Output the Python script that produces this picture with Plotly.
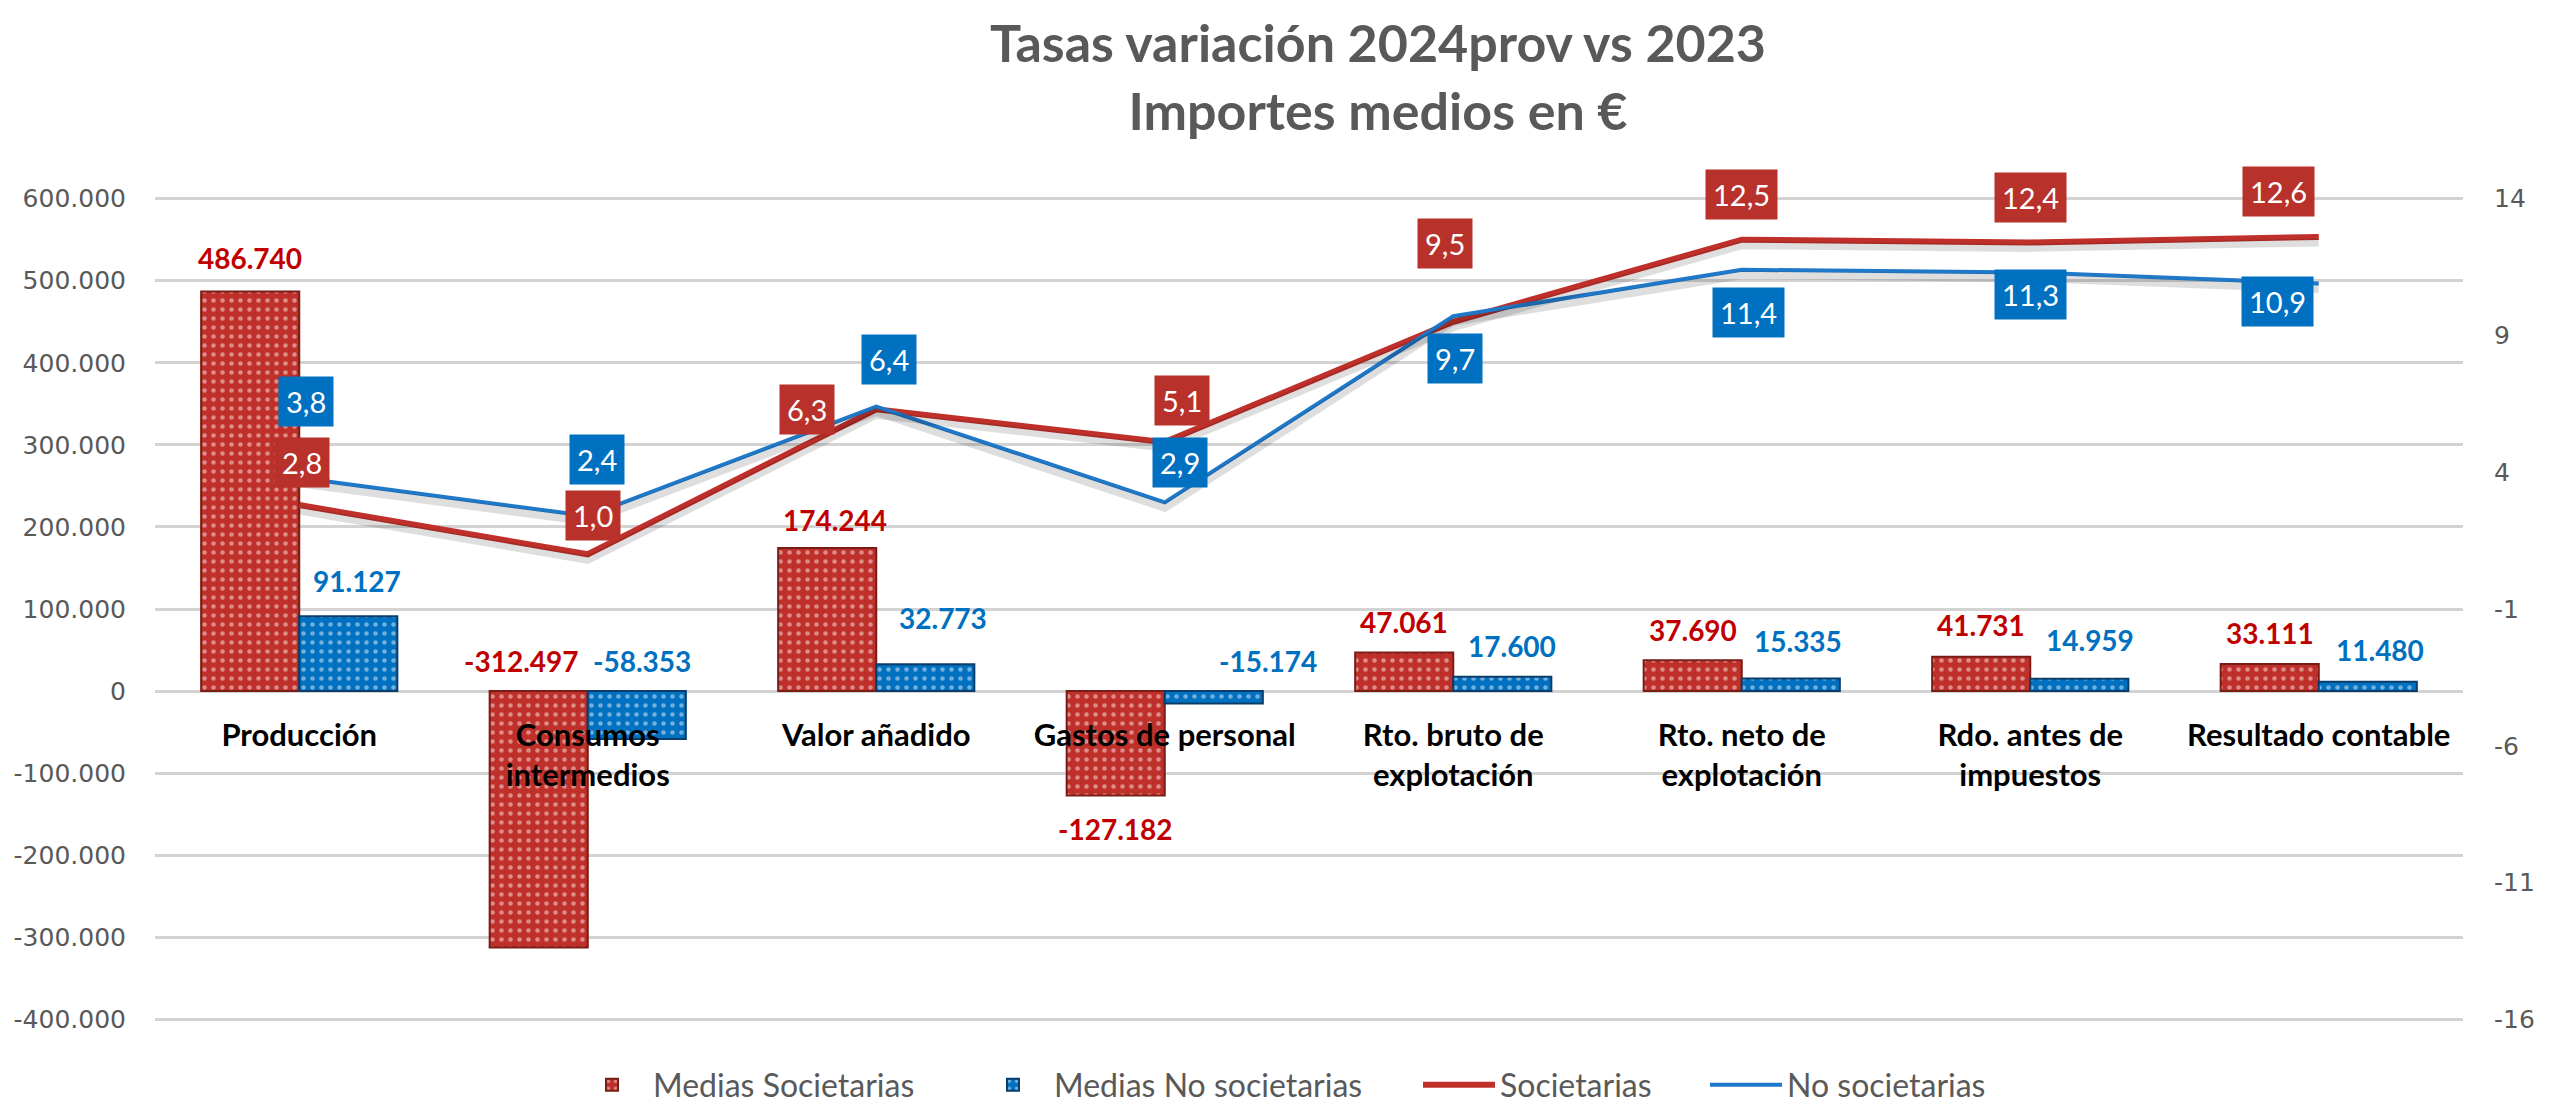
import plotly.graph_objects as go

categories = ["Producción", "Consumos<br>intermedios", "Valor añadido", "Gastos de personal",
              "Rto. bruto de<br>explotación", "Rto. neto de<br>explotación",
              "Rdo. antes de<br>impuestos", "Resultado contable"]
medias_soc = [486740, -312497, 174244, -127182, 47061, 37690, 41731, 33111]
medias_nosoc = [91127, -58353, 32773, -15174, 17600, 15335, 14959, 11480]
tasa_soc = [2.8, 1.0, 6.3, 5.1, 9.5, 12.5, 12.4, 12.6]
tasa_nosoc = [3.8, 2.4, 6.4, 2.9, 9.7, 11.4, 11.3, 10.9]
series_names = ["Medias Societarias", "Medias No societarias", "Societarias", "No societarias"]

left_ticks = [-400000, -300000, -200000, -100000, 0, 100000, 200000, 300000, 400000, 500000, 600000]
left_tick_labels = ["-400.000", "-300.000", "-200.000", "-100.000", "0", "100.000", "200.000",
                    "300.000", "400.000", "500.000", "600.000"]
right_ticks = [-16, -11, -6, -1, 4, 9, 14]
right_tick_labels = ["-16", "-11", "-6", "-1", "4", "9", "14"]

RED = "#C0302A"
RED_TXT = "#C00000"
BLUE = "#0070C0"
BLUE_LINE = "#1F78C8"
GRAY = "#595959"
FONT = "Lato"

# axis ranges (left and right aligned: 100.000 on the left = 3 on the right)
L_MIN, L_MAX = -402000, 602000
R_MIN, R_MAX = -16 + (L_MIN + 400000) * 3e-5, -16 + (L_MAX + 400000) * 3e-5
SHADOW_SHIFT = 0.2  # right-axis units, drop shadow offset of the lines


def fmt_int(v):
    return f"{v:,.0f}".replace(",", ".")


def fmt_dec(v):
    return f"{v:.1f}".replace(".", ",")


fig = go.Figure()
fig.add_trace(go.Bar(
    x=categories, y=medias_soc, name=series_names[0], legend="legend",
    marker=dict(color=RED, line=dict(color="#7A1C16", width=2),
                pattern=dict(shape=".", fgcolor="rgba(255,255,255,0.9)", bgcolor=RED,
                             size=9, solidity=0.2)),
))
fig.add_trace(go.Bar(
    x=categories, y=medias_nosoc, name=series_names[1], legend="legend2",
    marker=dict(color=BLUE, line=dict(color="#0B3D6B", width=2),
                pattern=dict(shape=".", fgcolor="rgba(255,255,255,0.9)", bgcolor=BLUE,
                             size=9, solidity=0.2)),
))
# soft drop shadows of the two lines (same data, drawn on a slightly shifted axis)
for vals in (tasa_soc, tasa_nosoc):
    fig.add_trace(go.Scatter(
        x=categories, y=vals, yaxis="y3", mode="lines", showlegend=False, hoverinfo="skip",
        line=dict(color="rgba(0,0,0,0.13)", width=8),
    ))
fig.add_trace(go.Scatter(
    x=categories, y=tasa_soc, name=series_names[2], yaxis="y2", mode="lines", legend="legend3",
    line=dict(color=RED, width=6),
))
fig.add_trace(go.Scatter(
    x=categories, y=tasa_nosoc, name=series_names[3], yaxis="y2", mode="lines", legend="legend4",
    line=dict(color=BLUE_LINE, width=4),
))

annotations = []
BAR_OFF = 49
red_anchor = ["end", "zero", "end", "end", "end", "end", "end", "end"]
red_dx = [0, -17, 8, 0, 0, 0, 0, 0]
red_dy = [34, 30, 28, -34, 30, 30, 32, 31]
blue_anchor = ["end", "zero", "end", "zero", "end", "end", "end", "end"]
blue_dx = [9, 5, 18, 54, 10, 7, 11, 12]
blue_dy = [35, 30, 46, 30, 31, 37, 39, 32]

for i, c in enumerate(categories):
    v = medias_soc[i]
    annotations.append(dict(
        x=c, y=(v if red_anchor[i] == "end" else 0), xref="x", yref="y",
        text=f"<b>{fmt_int(v)}</b>", showarrow=False,
        xshift=-BAR_OFF + red_dx[i], yshift=red_dy[i], yanchor="middle",
        font=dict(family=FONT, size=28, color=RED_TXT)))
    v = medias_nosoc[i]
    annotations.append(dict(
        x=c, y=(v if blue_anchor[i] == "end" else 0), xref="x", yref="y",
        text=f"<b>{fmt_int(v)}</b>", showarrow=False,
        xshift=BAR_OFF + blue_dx[i], yshift=blue_dy[i], yanchor="middle",
        font=dict(family=FONT, size=28, color=BLUE)))

red_ll_dx = [3, 5, -69, 17, -8, 0, 0, -40]
red_ll_dy = [43, 39, 0, 42, 78, 45, 45, 45]
blue_ll_dx = [7, 9, 13, 15, 2, 7, 0, -41]
blue_ll_dy = [76, 56, 47, 40, -42, -43, -22, -18]

for i, c in enumerate(categories):
    annotations.append(dict(
        x=c, y=tasa_soc[i], xref="x", yref="y2", text=fmt_dec(tasa_soc[i]), showarrow=False,
        xshift=red_ll_dx[i], yshift=red_ll_dy[i], bgcolor="#B8312A", borderpad=7,
        font=dict(family=FONT, size=29, color="white")))
    annotations.append(dict(
        x=c, y=tasa_nosoc[i], xref="x", yref="y2", text=fmt_dec(tasa_nosoc[i]), showarrow=False,
        xshift=blue_ll_dx[i], yshift=blue_ll_dy[i], bgcolor=BLUE, borderpad=7,
        font=dict(family=FONT, size=29, color="white")))


def legend_at(xpx):
    return dict(orientation="h", x=xpx / 2557, xref="container", xanchor="left",
                y=18 / 1103, yref="container", yanchor="middle",
                font=dict(family=FONT, size=32, color=GRAY), itemwidth=72,
                bgcolor="rgba(0,0,0,0)")


fig.update_layout(
    width=2557, height=1103,
    paper_bgcolor="white", plot_bgcolor="white",
    margin=dict(l=155, r=94, t=197, b=82, autoexpand=False),
    barmode="group", bargap=0.32, bargroupgap=0,
    title=dict(text="<b>Tasas variación 2024prov vs 2023<br>Importes medios en €</b>",
               x=1378 / 2557, xref="container", xanchor="center",
               y=1 - 62 / 1103, yref="container", yanchor="top",
               font=dict(family=FONT, size=52, color=GRAY)),
    xaxis=dict(anchor="free", position=(0 - L_MIN) / (L_MAX - L_MIN),
               showgrid=False, showline=False, zeroline=False,
               ticks="", ticklabelstandoff=23,
               tickfont=dict(family=FONT, size=31, color="black", weight="bold")),
    yaxis=dict(range=[L_MIN, L_MAX], tickvals=left_ticks, ticktext=left_tick_labels,
               showgrid=True, gridcolor="#D3D3D3", gridwidth=3, zeroline=False,
               ticks="", ticklabelstandoff=28,
               tickfont=dict(family="DejaVu Sans", size=25, color=GRAY)),
    yaxis2=dict(range=[R_MIN, R_MAX], tickvals=right_ticks, ticktext=right_tick_labels,
                overlaying="y", side="right", showgrid=False, zeroline=False,
                ticks="", ticklabelstandoff=30,
                tickfont=dict(family="DejaVu Sans", size=25, color=GRAY)),
    yaxis3=dict(range=[R_MIN + SHADOW_SHIFT, R_MAX + SHADOW_SHIFT], overlaying="y",
                side="right", visible=False, showgrid=False, zeroline=False),
    legend=legend_at(571),
    legend2=legend_at(972),
    legend3=legend_at(1418),
    legend4=legend_at(1705),
    annotations=annotations,
    showlegend=True,
)

fig.write_html("out.html", config={"displayModeBar": False},
               post_script="document.body.style.margin='0';document.body.style.overflow='hidden';")
